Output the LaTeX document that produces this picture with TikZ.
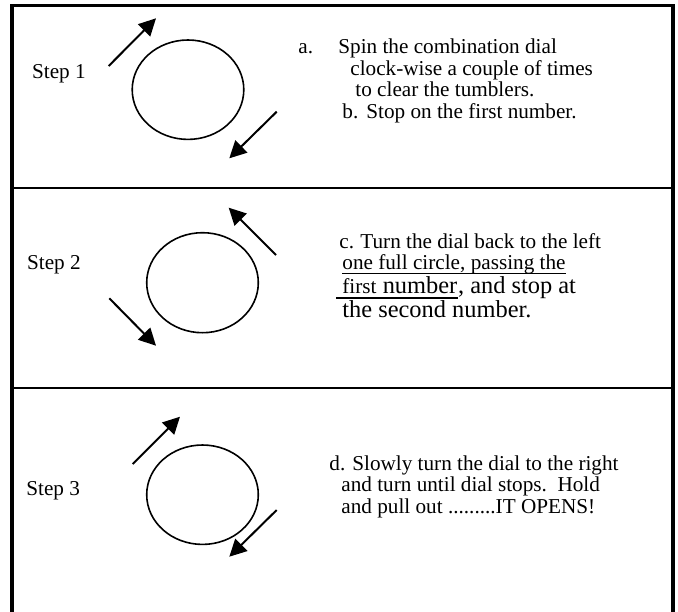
\documentclass[tikz,border=0pt]{standalone}
\usepackage{fontspec}
\setmainfont{Liberation Serif}
\usetikzlibrary{arrows.meta}
\begin{document}
\begin{tikzpicture}[x=0.5pt,y=-0.5pt,
  frameline/.style={line width=2pt},
  divider/.style={line width=1pt},
  dialline/.style={line width=0.8pt},
  turn/.style={line width=1pt,-{Triangle[length=8.5pt,width=8.5pt]}},
  txt/.style={anchor=base west,inner sep=0pt,font=\fontsize{10.6pt}{12.7pt}\selectfont},
  bigtxt/.style={anchor=base west,inner sep=0pt,font=\fontsize{12.2pt}{14.6pt}\selectfont},
  uline/.style={line width=0.5pt},
  thickuline/.style={line width=1pt}]
\useasboundingbox (0,0) rectangle (678,611);

% outer frame, open at the bottom
\coordinate (tl) at (12,5.7);
\coordinate (tr) at (673,5.7);
\coordinate (bl) at (12,615);
\coordinate (br) at (673,615);
\draw[frameline] (bl) -- (tl);
\draw[line width=1.75pt] ([xshift=-1pt]tl) -- ([xshift=1.2pt]tr);
\draw[line width=2.3pt] (tr) -- (br);

% dividers between the three steps
\coordinate (d1l) at (12,188.3);
\coordinate (d1r) at (673,188.3);
\coordinate (d2l) at (12,388.3);
\coordinate (d2r) at (673,388.3);
\draw[divider] (d1l) -- (d1r);
\draw[divider] (d2l) -- (d2r);

% ---- Step 1 ----
\node[txt] (step1) at (31.7,78) {Step 1};
\coordinate (dial1) at (188,89.7);
\draw[dialline] (dial1) ellipse [x radius=55.8, y radius=49.7];
\coordinate (s1as) at (108.7,66);
\coordinate (s1ae) at (156,18.3);
\coordinate (s1bs) at (276.7,111.7);
\coordinate (s1be) at (229.3,158.3);
\draw[turn] (s1as) -- (s1ae);
\draw[turn] (s1bs) -- (s1be);
\node[txt] (ia) at (298,53.3) {a.};
\node[txt] (a1) at (338,53.3) {Spin the combination dial};
\node[txt] (a2) at (350,75) {clock-wise a couple of times};
\node[txt] (a3) at (355,96.7) {to clear the tumblers.};
\node[txt] (ib) at (342,118.3) {b.};
\node[txt] (b1) at (366,118.3) {Stop on the first number.};

% ---- Step 2 ----
\node[txt] (step2) at (26.7,269.3) {Step 2};
\coordinate (dial2) at (202.5,282.7);
\draw[dialline] (dial2) ellipse [x radius=55.8, y radius=50];
\coordinate (s2as) at (276,255);
\coordinate (s2ae) at (228.7,207.7);
\coordinate (s2bs) at (109.3,298.3);
\coordinate (s2be) at (156,345.7);
\draw[turn] (s2as) -- (s2ae);
\draw[turn] (s2bs) -- (s2be);
\node[txt] (ic) at (339,248.3) {c.};
\node[txt] (c1) at (360,248.3) {Turn the dial back to the left};
\node[txt] (c2) at (342,269.3) {one full circle, passing the};
\draw[uline] ([yshift=-2.3pt]c2.base west) -- ([yshift=-2.3pt]c2.base east);
\node[txt] (c3a) at (342,293) {first};
\node[bigtxt,anchor=base west] (c3b) at ([xshift=2.7pt]c3a.base east) {number};
\node[bigtxt,anchor=base west] (c3c) at (c3b.base east) {, and stop at};
\coordinate (c3u) at (336,297.5);
\draw[thickuline] (c3u) -- (c3u -| c3b.east);
\node[bigtxt] (c4) at (342,317) {the second number.};

% ---- Step 3 ----
\node[txt] (step3) at (26,495) {Step 3};
\coordinate (dial3) at (202.5,494.7);
\draw[dialline] (dial3) ellipse [x radius=55.8, y radius=49.7];
\coordinate (s3as) at (132.7,464);
\coordinate (s3ae) at (180,416.7);
\coordinate (s3bs) at (276.7,510);
\coordinate (s3be) at (229.3,556.7);
\draw[turn] (s3as) -- (s3ae);
\draw[turn] (s3bs) -- (s3be);
\node[txt] (d1) at (329,470) {d. Slowly turn the dial to the right};
\node[txt] (d2) at (341,491.7) {and turn until dial stops.\ \ Hold};
\node[txt] (d3) at (341,513.3) {and pull out .........IT OPENS!};
\end{tikzpicture}
\end{document}
